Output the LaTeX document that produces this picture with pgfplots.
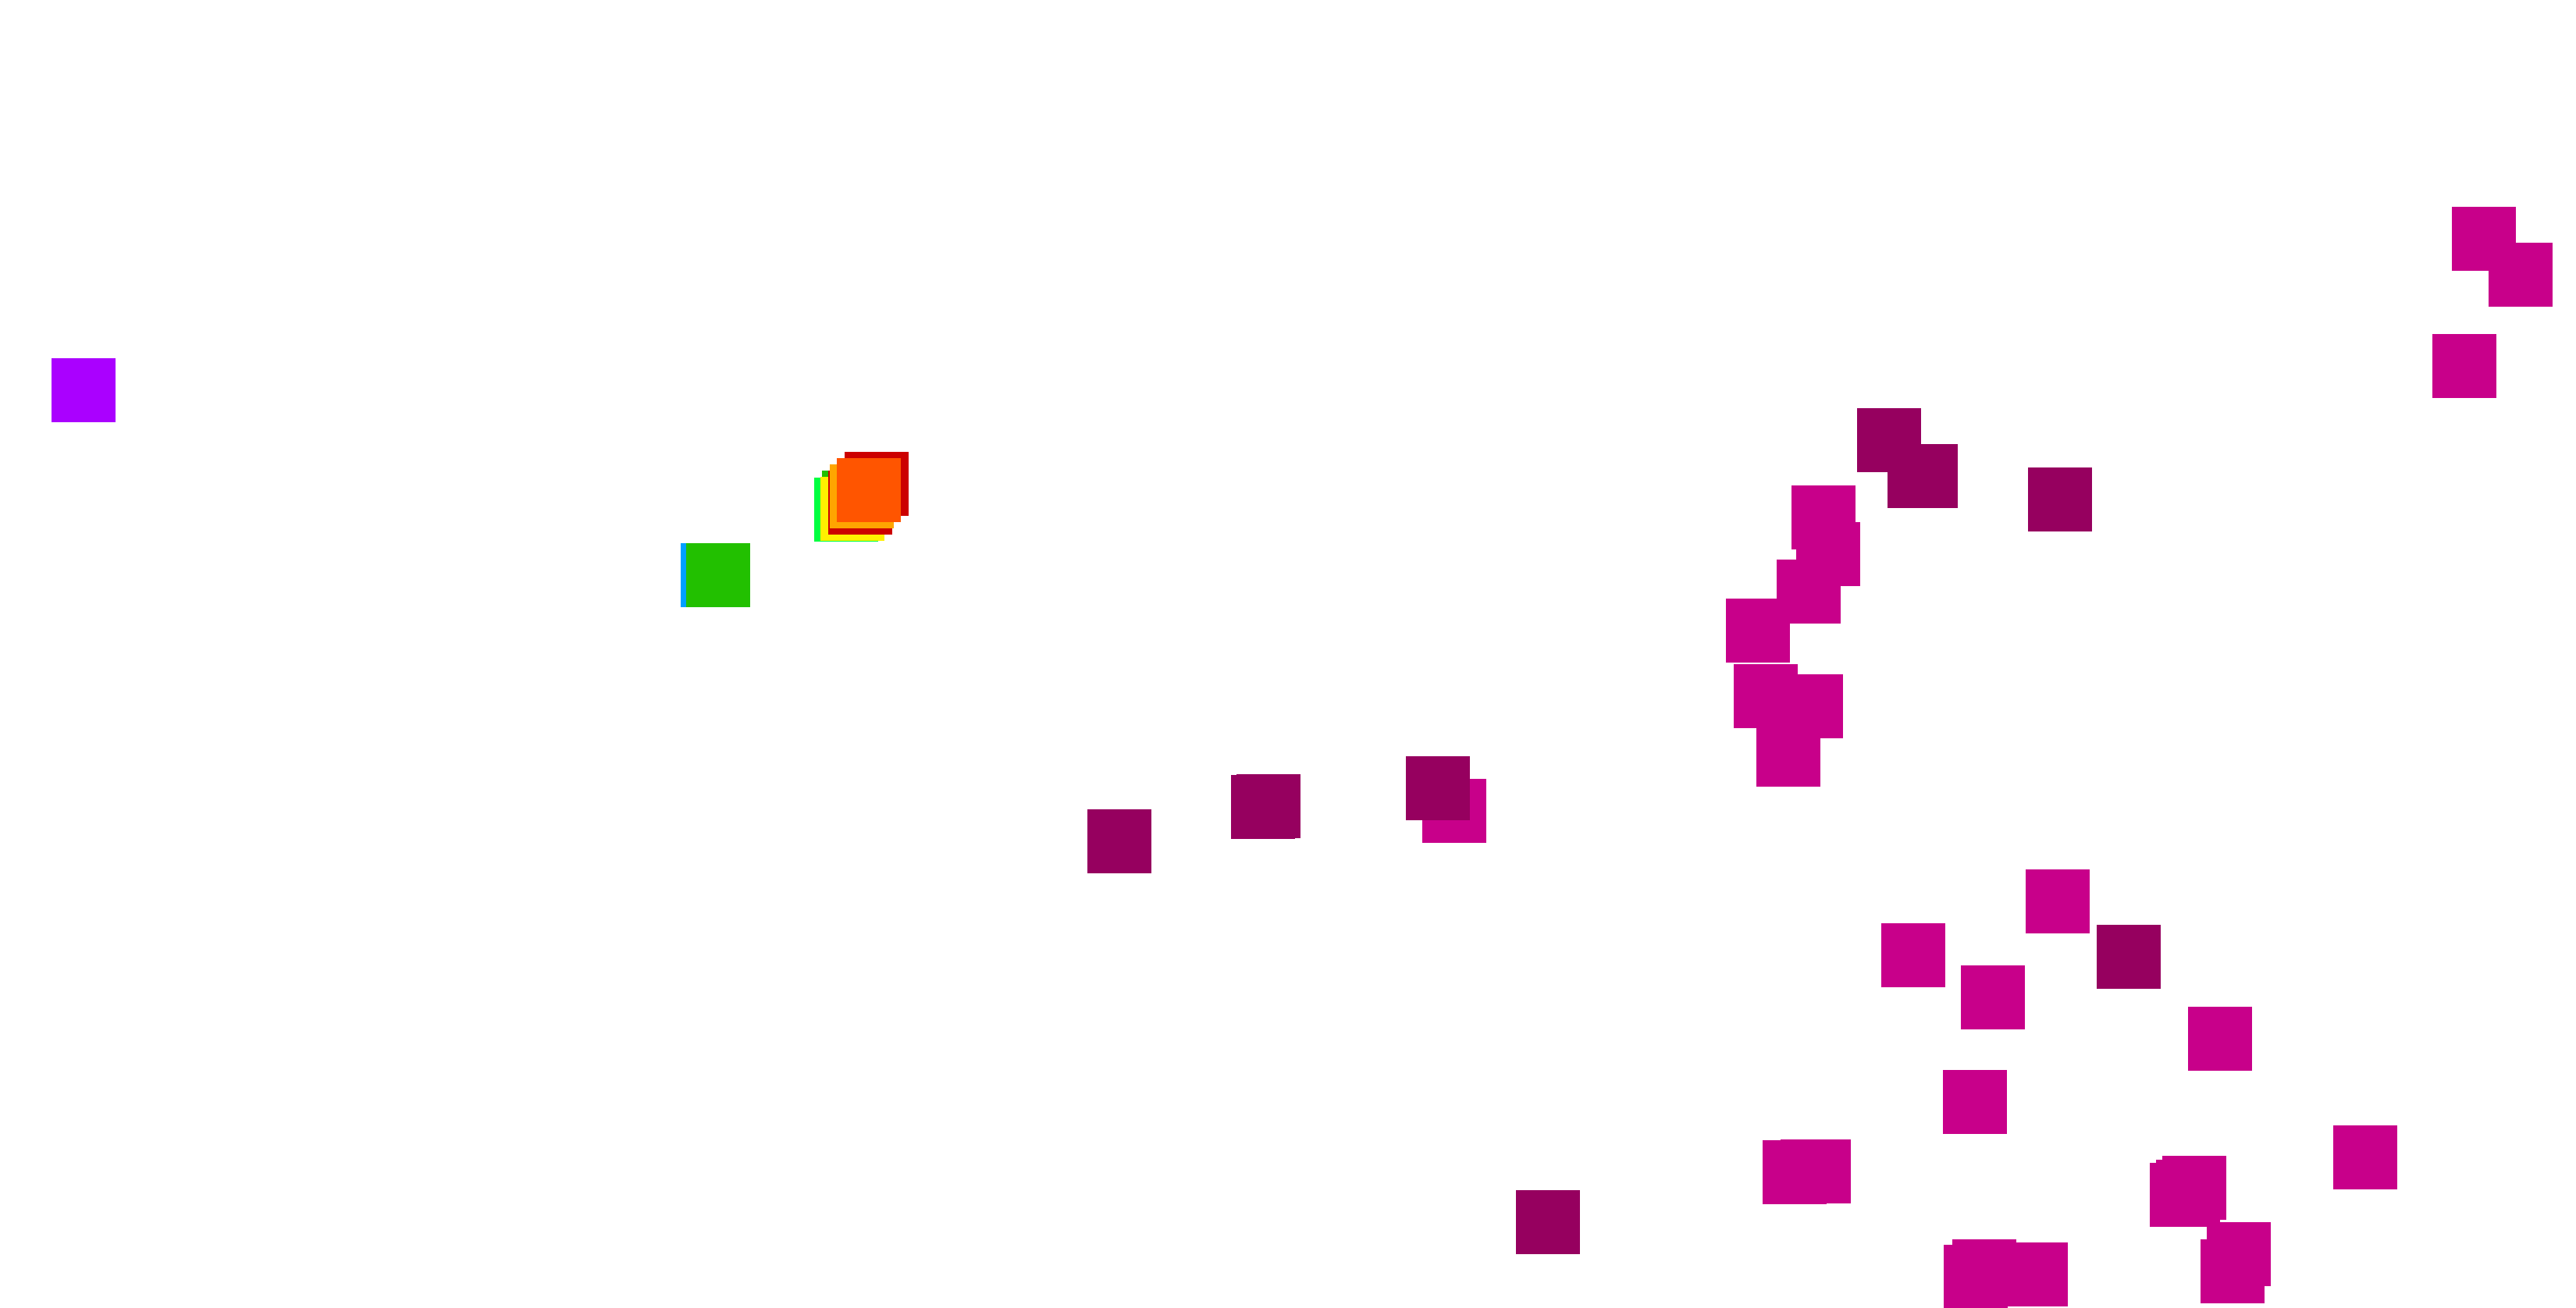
\documentclass[border=0pt]{standalone}
\usepackage{pgfplots}
\pgfplotsset{compat=1.18}
\definecolor{mag}{RGB}{200,0,138}
\definecolor{dmag}{RGB}{150,0,95}
\definecolor{cpurple}{RGB}{170,0,255}
\definecolor{cblue}{RGB}{0,160,255}
\definecolor{cgreenA}{RGB}{0,255,64}
\definecolor{cgreenB}{RGB}{34,192,0}
\definecolor{cyellow}{RGB}{255,240,0}
\definecolor{cred}{RGB}{204,0,0}
\definecolor{corangeY}{RGB}{255,165,0}
\definecolor{corange}{RGB}{255,85,0}
\begin{document}
\begin{tikzpicture}
\begin{axis}[
  scale only axis,
  width=16.5cm, height=8.215cm,
  xmin=0, xmax=3300, ymin=0, ymax=1643,
  hide axis,
  y dir=reverse,
  every axis plot/.append style={only marks, mark=square*, mark size=0.2cm,
     mark options={xslant=0.4, draw=none}},
]
% magenta
\addplot[mag, mark options={fill=mag}] coordinates {
(3182,306) (3229,352) (3157,469)
(2336,663) (2342,710) (2317,758) (2252,808) (2262,892) (2320,905) (2291,967)
(1863,1039)
(2451,1224) (2299,1502) (2322,1501) (2330,1501)
(2636,1155) (2553,1278) (2844,1331) (2530,1412) (3030,1483)
(2795,1531) (2803,1527) (2811,1522)
(2868,1607) (2860,1629) (2542,1629) (2531,1636) (2608,1633)
};
% dark magenta
\addplot[dmag, mark options={fill=dmag}] coordinates {
(2420,564) (2459,610) (2467,610) (2639,640)
(1434,1078) (1618,1034) (1625,1033) (1842,1010)
(1983,1566) (2727,1226)
};
\addplot[cpurple, mark options={fill=cpurple}] coordinates {(107,500)};
\addplot[cblue, mark options={fill=cblue}] coordinates {(913,737)};
\addplot[cgreenB, mark options={fill=cgreenB}] coordinates {(920,737) (1094,644)};
\addplot[cgreenA, mark options={fill=cgreenA}] coordinates {(1084,653)};
\addplot[cyellow, mark options={fill=cyellow}] coordinates {(1092,652)};
\addplot[cred, mark options={fill=cred}] coordinates {(1102,644) (1123,620)};
\addplot[corangeY, mark options={fill=corangeY}] coordinates {(1104,636)};
\addplot[corange, mark options={fill=corange}] coordinates {(1113,628)};
\end{axis}
\path (current axis.south west) rectangle (current axis.north east);
\end{tikzpicture}
\end{document}
